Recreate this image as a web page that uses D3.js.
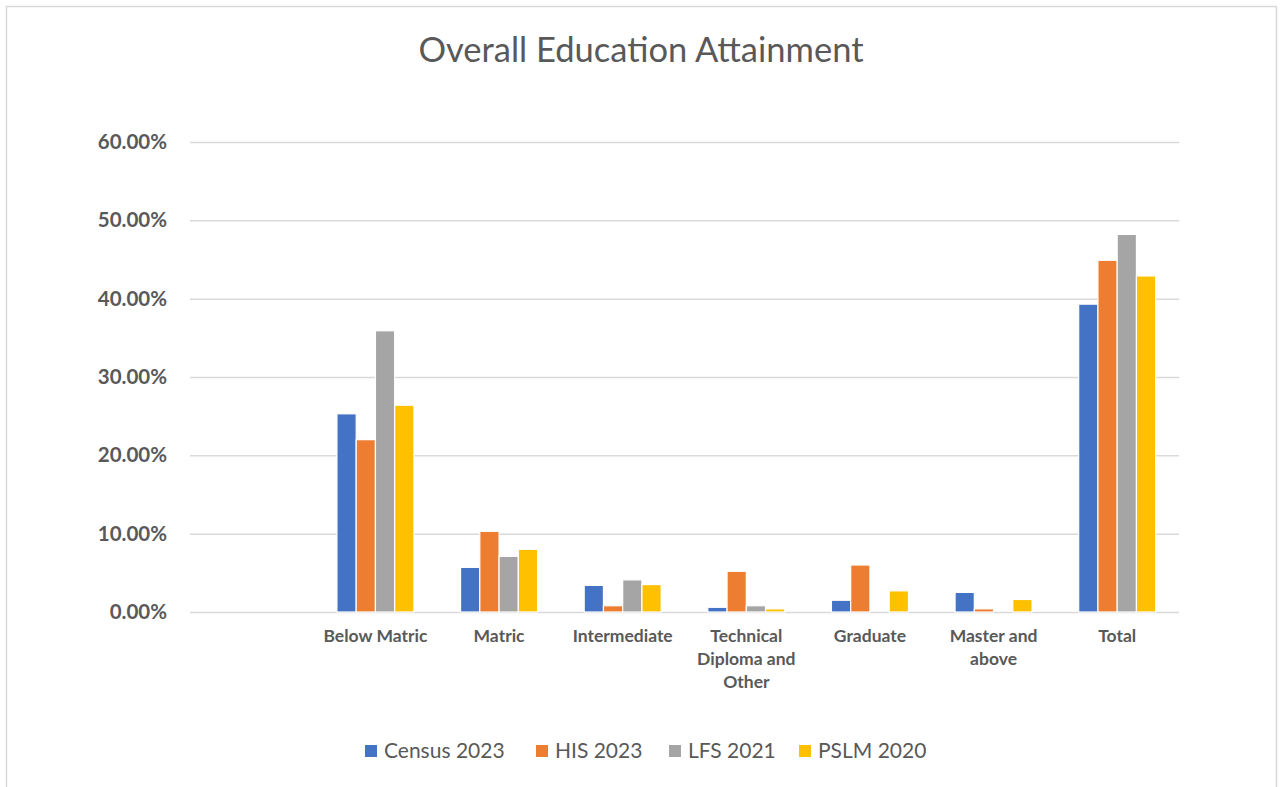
<!DOCTYPE html>
<html>
<head>
<meta charset="utf-8">
<script src="https://cdn.jsdelivr.net/npm/d3@7"></script>
<style>
  body { margin: 0; background: #fff; }
  text { font-family: Lato, "Open Sans", sans-serif; }
</style>
</head>
<body>
<div id="chart"></div>
<script>
// data (fractions)
const categories = ["", "Below Matric", "Matric", "Intermediate", "Technical Diploma and Other", "Graduate", "Master and above", "Total"];
const seriesNames = ["Census 2023", "HIS 2023", "LFS 2021", "PSLM 2020"];
const census2023 = [null, 0.253, 0.057, 0.034, 0.006, 0.015, 0.025, 0.393];
const his2023    = [null, 0.220, 0.103, 0.008, 0.052, 0.060, 0.004, 0.449];
const lfs2021    = [null, 0.359, 0.071, 0.041, 0.008, 0, 0, 0.482];
const pslm2020   = [null, 0.264, 0.080, 0.035, 0.004, 0.027, 0.016, 0.429];
const yTicks = [0, 0.1, 0.2, 0.3, 0.4, 0.5, 0.6];
const colors = ["#4472c4", "#ed7d31", "#a5a5a5", "#ffc000"];

const allSeries = [census2023, his2023, lfs2021, pslm2020];

const width = 1283, height = 787;
const margin = { top: 142, right: 104, bottom: 175, left: 190 };
const graphWidth = width - margin.left - margin.right;
const graphHeight = height - margin.top - margin.bottom;

const svg = d3.select("#chart").append("svg")
    .attr("width", width)
    .attr("height", height);

// chart border
svg.append("rect")
    .attr("x", 6.5).attr("y", 6.5)
    .attr("width", 1270).attr("height", 800)
    .attr("fill", "none")
    .attr("stroke", "#d9d9d9")
    .attr("stroke-width", 1.5);

const graph = svg.append("g")
    .attr("transform", `translate(${margin.left},${margin.top})`);

const x = d3.scaleBand()
    .domain(categories.map((d, i) => i))
    .range([0, graphWidth]);

const xInner = d3.scaleBand()
    .domain(seriesNames)
    .range([0, 77])
    .padding(0);

const y = d3.scaleLinear()
    .domain([0, 0.6])
    .range([graphHeight, 0]);

// gridlines
graph.append("g")
    .call(d3.axisLeft(y).tickValues(yTicks).tickSize(-graphWidth).tickFormat(""))
    .call(g => g.select(".domain").remove())
    .call(g => g.selectAll("line").attr("stroke", "#d9d9d9").attr("stroke-width", 1.5));

// y labels
graph.append("g")
    .attr("transform", "translate(-20,0)")
    .call(d3.axisLeft(y).tickValues(yTicks).tickSize(0).tickFormat(d => (d * 100).toFixed(2) + "%"))
    .call(g => g.select(".domain").remove())
    .call(g => g.selectAll("text")
        .attr("fill", "#595959")
        .style("font-size", "20.5px")
        .style("font-weight", "bold"));

// bars
const groups = graph.selectAll(".cat")
    .data(categories.map((c, i) => i))
    .enter()
    .append("g")
    .attr("transform", i => `translate(${x(i) + x.bandwidth() / 2 - 38.5},0)`);

groups.selectAll("rect")
    .data(i => allSeries.map((s, k) => ({ name: seriesNames[k], value: s[i], color: colors[k] })))
    .enter()
    .filter(d => d.value)
    .append("rect")
    .attr("x", d => xInner(d.name))
    .attr("y", d => y(d.value))
    .attr("width", xInner.bandwidth())
    .attr("height", d => graphHeight - y(d.value))
    .attr("fill", d => d.color)
    .attr("stroke", "#fff")
    .attr("stroke-width", 1.2);

// x labels
const xLabelWidth = 112;
const ctx = document.createElement("canvas").getContext("2d");
ctx.font = "bold 17.5px Lato";
graph.append("g")
    .selectAll("text")
    .data(categories.map((c, i) => ({ c, i })))
    .enter()
    .append("text")
    .attr("x", d => x(d.i) + x.bandwidth() / 2)
    .attr("y", graphHeight + 30)
    .attr("text-anchor", "middle")
    .attr("fill", "#595959")
    .style("font-size", "17.5px")
    .style("font-weight", "bold")
    .each(function (d) {
        const t = d3.select(this);
        const words = d.c.split(" ");
        const lines = [];
        let line = "";
        words.forEach(w => {
            const test = line ? line + " " + w : w;
            if (ctx.measureText(test).width > xLabelWidth && line) {
                lines.push(line);
                line = w;
            } else {
                line = test;
            }
        });
        if (line) lines.push(line);
        lines.forEach((l, k) => {
            t.append("tspan")
                .attr("x", x(d.i) + x.bandwidth() / 2)
                .attr("dy", k === 0 ? 0 : 23)
                .text(l);
        });
    });

// title
svg.append("text")
    .attr("x", 641)
    .attr("y", 62)
    .attr("text-anchor", "middle")
    .attr("fill", "#595959")
    .style("font-size", "34.5px")
    .text("Overall Education Attainment");

// legend
const legendX = [365, 536, 669, 799];
const legend = svg.append("g");
seriesNames.forEach((name, k) => {
    legend.append("rect")
        .attr("x", legendX[k])
        .attr("y", 745)
        .attr("width", 12)
        .attr("height", 12)
        .attr("fill", colors[k]);
    legend.append("text")
        .attr("x", legendX[k] + 19)
        .attr("y", 758)
        .attr("fill", "#595959")
        .style("font-size", "21px")
        .text(name);
});
</script>
</body>
</html>
